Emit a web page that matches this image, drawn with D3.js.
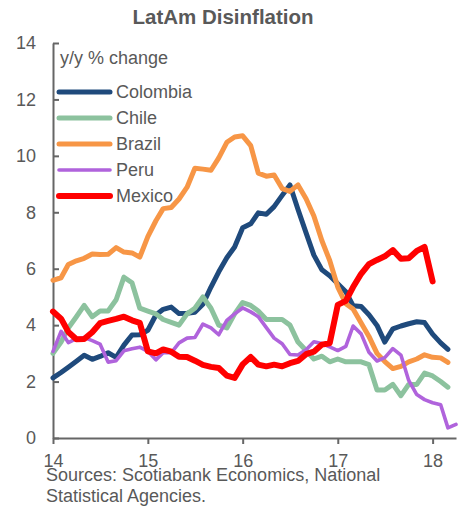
<!DOCTYPE html>
<html>
<head>
<meta charset="utf-8">
<script src="https://cdn.jsdelivr.net/npm/d3@7"></script>
<style>
  body { margin: 0; background: #fff; }
  text { font-family: "Liberation Sans", Arial, sans-serif; }
</style>
</head>
<body>
<script>
// monthly y/y CPI, Jan 2014 onwards
var colombia = [2.13,2.32,2.51,2.72,2.93,2.79,2.89,3.02,2.86,3.29,3.65,3.66,
  3.82,4.36,4.56,4.64,4.41,4.42,4.46,4.74,5.35,5.89,6.39,6.77,
  7.45,7.59,7.98,7.93,8.20,8.60,8.97,8.10,7.27,6.48,5.96,5.75,
  5.47,5.18,4.69,4.66,4.37,3.99,3.40,3.87,3.97,4.05,4.12,4.09,
  3.68,3.37,3.14];
var chile = [3.0,3.4,3.9,4.3,4.7,4.3,4.5,4.5,4.9,5.7,5.5,4.6,
  4.5,4.4,4.2,4.1,4.0,4.4,4.6,5.0,4.6,4.0,3.9,4.4,
  4.8,4.7,4.5,4.2,4.2,4.2,4.0,3.4,3.1,2.8,2.9,2.7,
  2.8,2.7,2.7,2.7,2.6,1.7,1.7,1.9,1.5,1.9,1.9,2.3,
  2.2,2.0,1.8];
var brazil = [5.59,5.68,6.15,6.28,6.37,6.52,6.50,6.51,6.75,6.59,6.56,6.41,
  7.14,7.70,8.13,8.17,8.47,8.89,9.56,9.53,9.49,9.93,10.48,10.67,
  10.71,10.36,9.39,9.28,9.32,8.84,8.74,8.97,8.48,7.87,6.99,6.29,
  5.35,4.76,4.57,4.08,3.60,3.00,2.71,2.46,2.54,2.70,2.80,2.95,
  2.86,2.84,2.68];
var peru = [3.07,3.78,3.38,3.52,3.56,3.45,3.33,2.69,2.74,3.09,3.16,3.22,
  3.07,2.77,3.02,3.02,3.37,3.54,3.56,4.04,3.90,3.66,4.17,4.40,
  4.61,4.47,4.30,3.91,3.54,3.34,2.96,2.94,3.13,3.41,3.35,3.23,
  3.10,3.25,3.97,3.69,3.04,2.73,2.85,3.17,2.94,2.04,1.54,1.36,
  1.25,1.18,0.36,0.48];
var mexico = [4.48,4.23,3.76,3.50,3.51,3.75,4.07,4.15,4.22,4.30,4.17,4.08,
  3.07,3.00,3.14,3.06,2.88,2.87,2.74,2.59,2.52,2.48,2.21,2.13,
  2.61,2.87,2.60,2.54,2.60,2.54,2.65,2.73,2.97,3.06,3.31,3.36,
  4.72,4.86,5.35,5.82,6.16,6.31,6.44,6.66,6.35,6.37,6.63,6.77,
  5.55];

var seriesNames = ["Colombia","Chile","Brazil","Peru","Mexico"];
var seriesValues = [colombia, chile, brazil, peru, mexico];
var seriesColors = ["#1f4a7c","#8cc29e","#f79646","#b063dc","#ff0000"];
var seriesWidths = [5, 5, 5, 3.6, 6];

var yTicks = [0,2,4,6,8,10,12,14];
var xTickYears = [2014,2015,2016,2017,2018];

var months = d3.timeMonth.range(new Date(2014,0,1), new Date(2018,4,1));

var width = 464, height = 509;
var margin = {left:53, right:8, top:43, bottom:71};
var grey = "#595959";

var x = d3.scaleTime()
    .domain([new Date(2014,0,1), new Date(2018,3,1)])
    .range([margin.left, width - margin.right]);
var y = d3.scaleLinear()
    .domain([0, 14])
    .range([height - margin.bottom, margin.top]);

var svg = d3.select("body").append("svg")
    .attr("width", width).attr("height", height);

svg.append("text")
    .attr("x", 223).attr("y", 24)
    .attr("text-anchor", "middle")
    .attr("font-size", 20.5).attr("font-weight", "bold")
    .attr("fill", grey)
    .text("LatAm Disinflation");

var yAxis = d3.axisLeft(y).tickValues(yTicks).tickSize(-6).tickSizeOuter(0).tickPadding(17);
var xAxis = d3.axisBottom(x)
    .tickValues(xTickYears.map(function(yr){ return new Date(yr,0,1); }))
    .tickFormat(d3.timeFormat("%y"))
    .tickSize(6).tickSizeOuter(0).tickPadding(10);

function styleAxis(g) {
  g.attr("font-family", null).attr("font-size", 18);
  g.selectAll("path, line").attr("stroke", "#666").attr("stroke-width", 2);
  g.selectAll("text").attr("fill", grey);
}

svg.append("g")
  .attr("transform", "translate(" + margin.left + ",0)")
  .call(yAxis).call(styleAxis);

svg.append("g")
  .attr("transform", "translate(0," + y(0) + ")")
  .call(xAxis).call(styleAxis);

var line = d3.line()
    .x(function(d, i){ return x(months[i]); })
    .y(function(d){ return y(d); });

svg.append("g")
  .selectAll("path")
  .data(seriesValues)
  .enter().append("path")
    .attr("d", function(d){ return line(d); })
    .attr("fill", "none")
    .attr("stroke", function(d, i){ return seriesColors[i]; })
    .attr("stroke-width", function(d, i){ return seriesWidths[i]; })
    .attr("stroke-linejoin", "round")
    .attr("stroke-linecap", "round");

// legend
svg.append("text")
    .attr("x", 60).attr("y", 64)
    .attr("font-size", 18).attr("fill", grey)
    .text("y/y % change");

var legend = svg.append("g").selectAll("g")
  .data(seriesNames)
  .enter().append("g")
    .attr("transform", function(d, i){ return "translate(0," + (92 + i * 26) + ")"; });

legend.append("line")
    .attr("x1", 59).attr("x2", 110)
    .attr("stroke", function(d, i){ return seriesColors[i]; })
    .attr("stroke-width", function(d, i){ return seriesWidths[i]; })
    .attr("stroke-linecap", "round");

legend.append("text")
    .attr("x", 116).attr("y", 6)
    .attr("font-size", 18).attr("fill", grey)
    .text(function(d){ return d; });

svg.append("text")
    .attr("x", 46).attr("y", 481)
    .attr("font-size", 18).attr("fill", grey)
    .text("Sources: Scotiabank Economics, National");
svg.append("text")
    .attr("x", 46).attr("y", 502)
    .attr("font-size", 18).attr("fill", grey)
    .text("Statistical Agencies.");
</script>
</body>
</html>
